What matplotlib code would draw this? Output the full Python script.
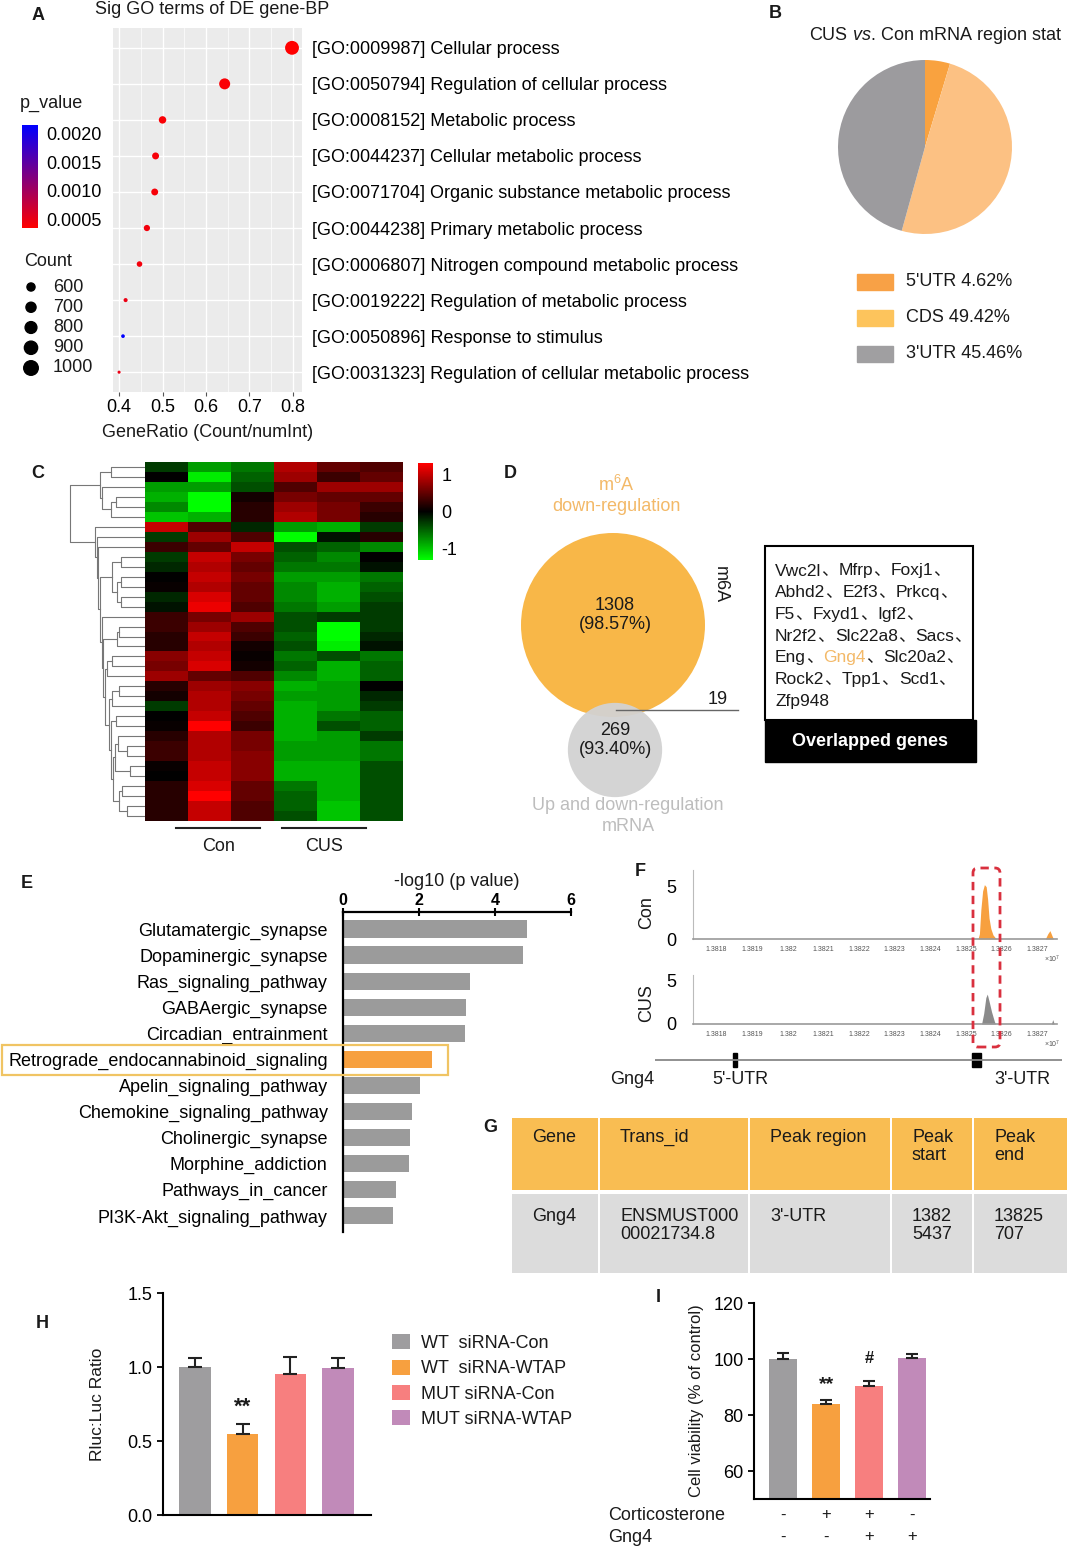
import matplotlib
matplotlib.use("Agg")
import matplotlib.pyplot as plt
import numpy as np
from matplotlib.cm import ScalarMappable
from matplotlib.colors import LinearSegmentedColormap, Normalize
from matplotlib.patches import Circle, FancyBboxPatch, Rectangle
from matplotlib.transforms import IdentityTransform, blended_transform_factory

plt.rcParams["font.family"] = ["Liberation Sans", "Noto Sans CJK SC", "DejaVu Sans"]
plt.rcParams["mathtext.fontset"] = "custom"
plt.rcParams["mathtext.rm"] = "Liberation Sans"
plt.rcParams["mathtext.it"] = "Liberation Sans:italic"
plt.rcParams["text.color"] = "#1a1a1a"
plt.rcParams["axes.labelcolor"] = "#1a1a1a"

# ---------------- data ----------------
go_terms = [
    "[GO:0009987] Cellular process",
    "[GO:0050794] Regulation of cellular process",
    "[GO:0008152] Metabolic process",
    "[GO:0044237] Cellular metabolic process",
    "[GO:0071704] Organic substance metabolic process",
    "[GO:0044238] Primary metabolic process",
    "[GO:0006807] Nitrogen compound metabolic process",
    "[GO:0019222] Regulation of metabolic process",
    "[GO:0050896] Response to stimulus",
    "[GO:0031323] Regulation of cellular metabolic process",
]
go_ratio = [0.798, 0.643, 0.500, 0.484, 0.482, 0.464, 0.447, 0.415, 0.409, 0.400]
go_count = [998, 804, 625, 605, 603, 580, 559, 519, 511, 500]
go_pvalue = [0.00036, 0.0004, 0.0004, 0.00042, 0.00042, 0.00045, 0.00045, 0.0005, 0.00214, 0.0005]
count_legend = [600, 700, 800, 900, 1000]
pvalue_ticks = [0.0005, 0.0010, 0.0015, 0.0020]

region_labels = ["5'UTR", "CDS", "3'UTR"]
region_pct = [4.62, 49.42, 45.46]

# z-scored expression, columns: Con1 Con2 Con3 CUS1 CUS2 CUS3
heat_rows = [
    [-0.3, -0.8, -0.6, 0.9, 0.5, 0.4],
    [0.0, -1.2, -0.5, 0.8, 0.3, 0.5],
    [-0.8, -0.8, -0.4, 0.4, 0.8, 0.8],
    [-0.9, -1.4, 0.1, 0.6, 0.5, 0.5],
    [-0.7, -1.3, 0.2, 0.8, 0.6, 0.3],
    [-1.0, -0.9, 0.2, 0.9, 0.6, 0.2],
    [1.0, 0.4, -0.2, -0.8, -0.9, -0.3],
    [-0.3, 0.8, 0.4, -1.3, -0.1, 0.2],
    [0.3, 0.5, 1.0, -0.4, -0.5, -0.7],
    [-0.3, 1.0, 0.6, -0.5, -0.7, 0.0],
    [-0.2, 0.9, 0.5, -0.6, -0.6, -0.1],
    [0.0, 1.0, 0.6, -0.8, -0.8, -0.6],
    [0.05, 0.9, 0.5, -0.7, -0.9, -0.5],
    [-0.2, 1.1, 0.5, -0.7, -0.9, -0.4],
    [-0.1, 1.2, 0.4, -0.6, -0.8, -0.3],
    [0.3, 0.6, 0.8, -0.4, -0.3, -0.3],
    [0.3, 0.8, 0.4, -0.4, -1.3, -0.3],
    [0.2, 1.0, 0.3, -0.5, -1.3, -0.2],
    [0.2, 0.9, 0.1, -0.4, -1.2, -0.1],
    [0.7, 1.0, 0.05, -0.6, -0.4, -0.6],
    [0.6, 1.1, 0.1, -0.5, -0.9, -0.5],
    [0.8, 0.5, 0.4, -0.7, -0.9, -0.5],
    [0.2, 0.8, 0.7, -0.9, -0.8, 0.0],
    [0.1, 0.9, 0.6, -0.8, -0.8, -0.2],
    [-0.3, 0.9, 0.5, -0.9, -0.8, -0.3],
    [0.0, 1.0, 0.4, -0.9, -0.6, -0.5],
    [0.05, 1.3, 0.3, -0.9, -0.4, -0.5],
    [0.2, 0.9, 0.6, -0.9, -0.8, -0.3],
    [0.3, 0.9, 0.6, -0.8, -0.8, -0.6],
    [0.3, 0.9, 0.7, -0.8, -0.8, -0.6],
    [0.05, 1.0, 0.7, -0.9, -0.9, -0.4],
    [0.0, 1.0, 0.7, -0.9, -0.9, -0.4],
    [0.2, 1.1, 0.5, -0.6, -0.9, -0.4],
    [0.2, 1.3, 0.5, -0.5, -0.9, -0.4],
    [0.2, 1.0, 0.4, -0.5, -1.0, -0.4],
    [0.2, 1.0, 0.4, -0.4, -1.0, -0.4],
]
heat_groups = ["Con", "CUS"]

venn_m6a_only = 1308
venn_m6a_pct = "98.57%"
venn_mrna_only = 269
venn_mrna_pct = "93.40%"
venn_overlap = 19
overlap_genes = ["Vwc2l", "Mfrp", "Foxj1", "Abhd2", "E2f3", "Prkcq", "F5", "Fxyd1", "Igf2",
                 "Nr2f2", "Slc22a8", "Sacs", "Eng", "Gng4", "Slc20a2", "Rock2", "Tpp1", "Scd1",
                 "Zfp948"]
highlight_gene = "Gng4"

kegg_terms = ["Glutamatergic_synapse", "Dopaminergic_synapse", "Ras_signaling_pathway",
              "GABAergic_synapse", "Circadian_entrainment", "Retrograde_endocannabinoid_signaling",
              "Apelin_signaling_pathway", "Chemokine_signaling_pathway", "Cholinergic_synapse",
              "Morphine_addiction", "Pathways_in_cancer", "PI3K-Akt_signaling_pathway"]
kegg_logp = [4.84, 4.74, 3.34, 3.24, 3.2, 2.34, 2.03, 1.82, 1.76, 1.74, 1.39, 1.32]
kegg_highlight = "Retrograde_endocannabinoid_signaling"

con_peak_x = [13825340, 13825380, 13825420, 13825470, 13825520, 13825570, 13825610, 13825650,
              13825700, 13825760, 13825830, 13825880]
con_peak_y = [0, 0.5, 2.8, 4.6, 5.2, 5.0, 3.8, 2.0, 1.0, 0.4, 0.1, 0]
con_small_x = [13827230, 13827300, 13827360, 13827420, 13827460]
con_small_y = [0, 0.5, 0.8, 0.3, 0]
cus_peak_x = [13825440, 13825500, 13825560, 13825600, 13825650, 13825720, 13825800, 13825830]
cus_peak_y = [0, 1.2, 3.0, 3.4, 2.6, 1.4, 0.3, 0]
cus_small_x = [13827400, 13827440, 13827480]
cus_small_y = [0, 0.5, 0]
track_ticks = [13818000, 13819000, 13820000, 13821000, 13822000, 13823000, 13824000,
               13825000, 13826000, 13827000]
utr_start = [13818450, 13825160]
utr_end = [13818570, 13825420]

table_header = ["Gene", "Trans_id", "Peak region", "Peak\nstart", "Peak\nend"]
table_row = ["Gng4", "ENSMUST000\n00021734.8", "3'-UTR", "1382\n5437", "13825\n707"]

luc_labels = ["WT  siRNA-Con", "WT  siRNA-WTAP", "MUT siRNA-Con", "MUT siRNA-WTAP"]
luc_mean = [1.0, 0.544, 0.956, 0.99]
luc_err = [0.06, 0.074, 0.11, 0.07]
luc_sig = ["", "**", "", ""]

via_mean = [100.0, 83.8, 90.2, 100.3]
via_err = [2.3, 1.4, 1.9, 1.6]
via_sig = ["", "**", "#", ""]
cort = ["-", "+", "+", "-"]
gng4 = ["-", "-", "+", "+"]

bar_colors = ["#9e9d9f", "#f7a03f", "#f77f7f", "#c18ab9"]

# ---------------- layout helpers ----------------
W, H = 1070, 1549
FS = 13
fig = plt.figure(figsize=(W / 100, H / 100), dpi=100)


def px_axes(x0, y0, x1, y1):
    return fig.add_axes([x0 / W, 1 - y1 / H, (x1 - x0) / W, (y1 - y0) / H])


def ftext(x, y, s, **kw):
    return fig.text(x / W, 1 - y / H, s, **kw)


for lab, (x, y) in zip("ABCDEFGHI", [(38, 15), (775, 13), (38, 473), (510, 473), (27, 884),
                                     (640, 872), (490, 1128), (42, 1324), (658, 1298)]):
    ftext(x, y, lab, fontsize=13, fontweight="bold", ha="center", va="center")

# ---------------- A: GO bubble ----------------
axA = px_axes(113, 28, 302, 392)
axA.set_facecolor("#ebebeb")
rows = np.arange(1, len(go_terms) + 1)
pcmap = LinearSegmentedColormap.from_list("pv", ["#ff0000", "#0000ff"])
pnorm = Normalize(0.00036, 0.00214)


def count_size(c):
    return 5 + (np.asarray(c) - 500) / 500 * 95


axA.scatter(go_ratio, rows, s=count_size(go_count), c=go_pvalue, cmap=pcmap, norm=pnorm,
            zorder=3, linewidths=0)
axA.set_xlim(0.386, 0.821)
axA.set_ylim(10.55, 0.45)
axA.set_xticks([0.4, 0.5, 0.6, 0.7, 0.8])
axA.set_xticks([0.45, 0.55, 0.65, 0.75], minor=True)
axA.set_yticks(rows)
axA.set_yticklabels(go_terms, fontsize=FS)
axA.yaxis.tick_right()
axA.tick_params(axis="y", length=0, pad=7)
axA.tick_params(axis="x", which="major", length=3, color="#555555", labelsize=FS, pad=2)
axA.tick_params(axis="x", which="minor", length=0)
axA.grid(True, which="major", color="white", lw=1.0)
axA.grid(True, which="minor", axis="x", color="white", lw=0.5)
axA.set_axisbelow(True)
for sp in axA.spines.values():
    sp.set_visible(False)
axA.set_xlabel("GeneRatio (Count/numInt)", fontsize=FS, labelpad=6)
ftext(212, 9, "Sig GO terms of DE gene-BP", fontsize=FS, ha="center", va="center")

ftext(20, 103, "p_value", fontsize=FS, va="center")
caxA = px_axes(22, 125, 38, 228)
cbA = fig.colorbar(ScalarMappable(norm=pnorm, cmap=pcmap), cax=caxA)
cbA.set_ticks(pvalue_ticks)
cbA.set_ticklabels([f"{v:.4f}" for v in pvalue_ticks])
cbA.outline.set_visible(False)
caxA.tick_params(length=0, labelsize=FS, pad=6)

ftext(24, 262, "Count", fontsize=FS, va="center")
axCnt = px_axes(15, 277, 110, 378)
axCnt.set_xlim(15, 110)
axCnt.set_ylim(378, 277)
axCnt.axis("off")
cnt_y = np.linspace(287, 368, len(count_legend))
axCnt.scatter([31] * len(count_legend), cnt_y, s=count_size(count_legend) + 10, color="black")
for c, y in zip(count_legend, cnt_y):
    axCnt.text(53, y, str(c), fontsize=FS, va="center")

# ---------------- B: pie ----------------
ftext(936, 36, r"CUS $\mathit{vs.}\,$Con mRNA region stat", fontsize=FS, ha="center", va="center")
axB = px_axes(838, 60, 1012, 234)
pie_colors = ["#f9a23f", "#fcc183", "#9c9b9e"]
axB.pie(region_pct, colors=pie_colors, startangle=90, counterclock=False, radius=1.0)
axB.set_xlim(-1, 1)
axB.set_ylim(-1, 1)
axB.set_aspect("equal")
leg_colors = ["#f8a146", "#fdc45c", "#a09fa1"]
for i, (lab, pct, col) in enumerate(zip(region_labels, region_pct, leg_colors)):
    y = 282 + i * 36
    fig.add_artist(Rectangle((857 / W, 1 - (y + 8) / H), 36 / W, 16 / H, color=col,
                             transform=fig.transFigure))
    ftext(906, y, f"{lab} {pct:.2f}%", fontsize=FS, va="center")

# ---------------- C: heatmap ----------------
heat = np.array(heat_rows)
hcmap = LinearSegmentedColormap.from_list("gbr", ["#00ff00", "#000000", "#ff0000"])
hnorm = Normalize(-1.3, 1.3)
axC = px_axes(145, 462, 403, 821)
axC.imshow(heat, cmap=hcmap, norm=hnorm, aspect="auto", interpolation="nearest")
axC.axis("off")

axDen = px_axes(68, 462, 145, 821)
clusters = [{"cen": np.array(r), "size": 1, "pos": float(i), "h": 0.0} for i, r in enumerate(heat_rows)]
root_h = 0.0
while len(clusters) > 1:
    d = [np.linalg.norm(clusters[i]["cen"] - clusters[i + 1]["cen"]) for i in range(len(clusters) - 1)]
    k = int(np.argmin(d))
    a, b = clusters[k], clusters[k + 1]
    h = max(d[k], a["h"], b["h"]) + 0.08
    ha_, hb_, hh = np.sqrt(a["h"]), np.sqrt(b["h"]), np.sqrt(h)
    axDen.plot([ha_, hh, hh, hb_], [a["pos"], a["pos"], b["pos"], b["pos"]],
               color="#777777", lw=0.8)
    size = a["size"] + b["size"]
    cen = (a["cen"] * a["size"] + b["cen"] * b["size"]) / size
    clusters[k:k + 2] = [{"cen": cen, "size": size, "pos": (a["pos"] + b["pos"]) / 2, "h": h}]
    root_h = hh
axDen.set_xlim(root_h * 1.02, 0)
axDen.set_ylim(len(heat_rows) - 0.5, -0.5)
axDen.axis("off")

caxC = px_axes(418, 463, 433, 560)
cbC = fig.colorbar(ScalarMappable(norm=hnorm, cmap=hcmap), cax=caxC)
cbC.set_ticks([-1, 0, 1])
cbC.set_ticklabels(["-1", "0", "1"])
cbC.outline.set_visible(False)
caxC.tick_params(length=0, labelsize=FS, pad=6)

axCl = px_axes(145, 822, 403, 860)
axCl.set_xlim(-0.5, 5.5)
axCl.set_ylim(1, 0)
axCl.axis("off")
for grp, cx in zip(heat_groups, [1.2, 3.66]):
    axCl.plot([cx - 0.98, cx + 0.98], [0.15, 0.15], color="#222222", lw=1.5)
    axCl.text(cx, 0.65, grp, fontsize=FS, ha="center", va="center")

# ---------------- D: venn ----------------
axD = px_axes(500, 470, 760, 850)
axD.set_xlim(500, 760)
axD.set_ylim(850, 470)
axD.set_aspect("equal")
axD.axis("off")
k_r = 92 / np.sqrt(venn_m6a_only + venn_overlap)
r_big = k_r * np.sqrt(venn_m6a_only + venn_overlap)
r_small = k_r * np.sqrt(venn_mrna_only + venn_overlap) * 1.1
axD.add_patch(Circle((613, 625), r_big, color="#f8b748", lw=0))
axD.add_patch(Circle((615, 750), r_small, color="#d2d2d2", lw=0, alpha=0.95))
axD.text(615, 615, f"{venn_m6a_only}\n({venn_m6a_pct})", fontsize=FS, ha="center", va="center",
         linespacing=1.2)
axD.text(615, 740, f"{venn_mrna_only}\n({venn_mrna_pct})", fontsize=FS, ha="center", va="center",
         linespacing=1.2)
axD.plot([616, 738], [710, 710], color="#666666", lw=1)
axD.text(718, 700, str(venn_overlap), fontsize=FS, ha="center", va="center")
axD.text(720, 585, "m6A", fontsize=FS, rotation=-90, ha="center", va="center")
axD.text(616, 495, "m$^6$A\ndown-regulation", fontsize=FS, ha="center", va="center",
         color="#f3b968", linespacing=1.25)
axD.text(628, 816, "Up and down-regulation\nmRNA", fontsize=FS, ha="center", va="center",
         color="#bdbdbd", linespacing=1.25)

axG = px_axes(760, 540, 980, 766)
axG.set_xlim(760, 980)
axG.set_ylim(766, 540)
axG.axis("off")
axG.add_patch(Rectangle((765, 546), 208, 174, fill=False, ec="black", lw=1.5))
axG.add_patch(Rectangle((765, 720), 211, 42, color="black"))
axG.text(870, 741, "Overlapped genes", color="white", fontsize=FS, fontweight="bold",
         ha="center", va="center")
gene_lines = [overlap_genes[i:i + 3] for i in range(0, len(overlap_genes), 3)]
for li, genes in enumerate(gene_lines):
    y = 571 + li * 21.7
    prev = None
    for gi, g in enumerate(genes):
        last = (li == len(gene_lines) - 1 and gi == len(genes) - 1)
        parts = [(g, "#f3b968" if g == highlight_gene else "#1a1a1a")]
        if not last:
            parts.append(("、", "#1a1a1a"))
        for s, col in parts:
            if prev is None:
                prev = axG.text(775, y, s, fontsize=12.5, color=col, va="center")
            else:
                prev = axG.annotate(s, xy=(1, 0), xycoords=prev, va="bottom", fontsize=12.5,
                                    color=col)

# ---------------- E: KEGG bars ----------------
axE = px_axes(343, 912, 571, 1232)
ypos = np.arange(len(kegg_terms))
ecol = ["#f7a03f" if t == kegg_highlight else "#9b9b9b" for t in kegg_terms]
axE.barh(ypos, kegg_logp, height=0.66, color=ecol)
axE.set_xlim(0, 6)
axE.set_ylim(11.62, -0.65)
axE.xaxis.tick_top()
axE.set_xticks([0, 2, 4, 6])
axE.set_xticklabels(["0", "2", "4", "6"], fontweight="bold")
axE.tick_params(axis="x", labelsize=11.5, direction="inout", length=6, width=1.5, pad=0)
axE.set_yticks(ypos)
axE.set_yticklabels(kegg_terms, fontsize=FS)
axE.tick_params(axis="y", length=0, pad=11)
for sp in ["right", "bottom"]:
    axE.spines[sp].set_visible(False)
axE.spines["left"].set_linewidth(1.6)
axE.spines["top"].set_linewidth(1.6)
axE.set_xlabel("-log10 (p value)", fontsize=FS)
axE.xaxis.set_label_position("top")
axE.xaxis.labelpad = 5
fig.add_artist(Rectangle((2 / W, 1 - 1075 / H), 446 / W, 30 / H, fill=False, ec="#f0c463",
                         lw=1.6, transform=fig.transFigure))

# ---------------- F: peak tracks ----------------


def bp_at(px):
    return 13818000 + (px - 716.7) / 35.6 * 1000


def track(y0, y1, ytop, xs, ys, col, sx, sy):
    ax = px_axes(693, y0, 1057, y1)
    ax.fill_between(xs, ys, color=col, lw=0)
    ax.fill_between(sx, sy, color=col, lw=0)
    ax.set_xlim(bp_at(693), bp_at(1057))
    ax.set_ylim(0, ytop)
    ax.set_yticks([0, 5])
    ax.tick_params(axis="y", length=0, labelsize=FS, pad=12)
    ax.set_xticks(track_ticks)
    ax.set_xticklabels([f"{v / 1e7:g}" for v in track_ticks], fontsize=5, color="#555555")
    ax.tick_params(axis="x", length=0, pad=5)
    for sp in ["top", "right"]:
        ax.spines[sp].set_visible(False)
    ax.spines["left"].set_color("#bbbbbb")
    ax.spines["bottom"].set_color("#999999")
    ax.spines["left"].set_linewidth(0.8)
    ax.spines["bottom"].set_linewidth(1.2)
    ax.set_facecolor("none")
    return ax


track(870, 939, 6.6, con_peak_x, con_peak_y, "#f7a03f", con_small_x, con_small_y)
track(975, 1024, 5.57, cus_peak_x, cus_peak_y, "#8a8a8a", cus_small_x, cus_small_y)
ftext(647, 913, "Con", fontsize=FS, rotation=90, ha="center", va="center")
ftext(647, 1003, "CUS", fontsize=FS, rotation=90, ha="center", va="center")
ftext(1044, 959, r"$\times10^7$", fontsize=5, color="#555555", ha="left", va="center")
ftext(1044, 1044, r"$\times10^7$", fontsize=5, color="#555555", ha="left", va="center")

axGene = px_axes(655, 1050, 1062, 1070)
axGene.plot([bp_at(655), bp_at(1062)], [0, 0], color="#888888", lw=1.3)
for s, e in zip(utr_start, utr_end):
    axGene.add_patch(Rectangle((s, -0.7), e - s, 1.4, color="black"))
axGene.set_xlim(bp_at(655), bp_at(1062))
axGene.set_ylim(-1, 1)
axGene.axis("off")
ftext(632, 1080, "Gng4", fontsize=FS, ha="center", va="center")
ftext(740, 1080, "5'-UTR", fontsize=FS, ha="center", va="center")
ftext(1022, 1080, "3'-UTR", fontsize=FS, ha="center", va="center")

fig.add_artist(FancyBboxPatch((973, H - 1047), 27, 179, boxstyle="round,pad=0,rounding_size=5",
                              transform=IdentityTransform(), fill=False, ec="#d9303e", lw=2,
                              ls=(0, (3, 2))))

# ---------------- G: table ----------------
axT = px_axes(506, 1112, 1070, 1276)
axT.set_xlim(506, 1070)
axT.set_ylim(1276, 1112)
axT.axis("off")
col_edges = [511, 599, 749, 891, 973, 1068]
for i in range(len(table_header)):
    x0, x1 = col_edges[i], col_edges[i + 1]
    axT.add_patch(Rectangle((x0 + 1, 1118), x1 - x0 - 2, 72, color="#f9bd52", lw=0))
    axT.add_patch(Rectangle((x0 + 1, 1194), x1 - x0 - 2, 79, color="#dcdcdc", lw=0))
    axT.text(x0 + 21, 1129, table_header[i], fontsize=FS, va="top", linespacing=1.1)
    axT.text(x0 + 21, 1208, table_row[i], fontsize=FS, va="top", linespacing=1.1)

# ---------------- H: luciferase ----------------
axH = px_axes(163, 1293, 371, 1515)
xh = np.arange(len(luc_mean))
bars = axH.bar(xh, luc_mean, width=0.66, color=bar_colors)
axH.errorbar(xh, luc_mean, yerr=[np.zeros(len(luc_err)), luc_err], fmt="none", ecolor="#222222",
             elinewidth=1.5, capsize=5, capthick=1.5)
for x, m, e, s in zip(xh, luc_mean, luc_err, luc_sig):
    if s:
        axH.text(x, m + e + 0.04, s, fontsize=16, fontweight="bold", ha="center", va="bottom")
axH.set_xlim(-0.67, 3.69)
axH.set_ylim(0, 1.5)
axH.set_yticks([0, 0.5, 1.0, 1.5])
axH.set_yticklabels(["0.0", "0.5", "1.0", "1.5"])
axH.set_xticks([])
axH.tick_params(axis="y", labelsize=FS, length=4, width=1.3)
for sp in ["top", "right"]:
    axH.spines[sp].set_visible(False)
for sp in ["left", "bottom"]:
    axH.spines[sp].set_linewidth(1.5)
axH.set_ylabel("Rluc:Luc Ratio", fontsize=12.5, labelpad=16)
axH.legend(bars, luc_labels, loc="upper left", bbox_to_anchor=(376 / W, 1 - 1318 / H),
           bbox_transform=fig.transFigure, frameon=False, fontsize=FS, handlelength=1.0,
           handleheight=0.9, handletextpad=0.6, labelspacing=0.42)

# ---------------- I: viability ----------------
axI = px_axes(754, 1303, 930, 1499)
xi = np.arange(len(via_mean))
axI.bar(xi, via_mean, width=0.66, color=bar_colors)
axI.errorbar(xi, via_mean, yerr=[np.zeros(len(via_err)), via_err], fmt="none", ecolor="#222222",
             elinewidth=1.5, capsize=4.5, capthick=1.5)
for x, m, e, s in zip(xi, via_mean, via_err, via_sig):
    if s == "**":
        axI.text(x, m + e + 2.5, s, fontsize=14, fontweight="bold", ha="center", va="bottom")
    elif s:
        axI.text(x, m + e + 5.5, s, fontsize=12, fontweight="bold", ha="center", va="bottom")
axI.set_xlim(-0.68, 3.42)
axI.set_ylim(50, 120)
axI.set_yticks([60, 80, 100, 120])
axI.set_xticks([])
axI.tick_params(axis="y", labelsize=FS, length=4, width=1.3)
for sp in ["top", "right"]:
    axI.spines[sp].set_visible(False)
for sp in ["left", "bottom"]:
    axI.spines[sp].set_linewidth(1.5)
axI.set_ylabel("Cell viability (% of control)", fontsize=12, labelpad=7)
tr = blended_transform_factory(axI.transData, fig.transFigure)
ftext(608, 1515, "Corticosterone", fontsize=FS, va="center")
ftext(608, 1537, "Gng4", fontsize=FS, va="center")
for x, c, g in zip(xi, cort, gng4):
    axI.text(x, 1 - 1515 / H, c, transform=tr, fontsize=12, ha="center", va="center")
    axI.text(x, 1 - 1537 / H, g, transform=tr, fontsize=12, ha="center", va="center")

fig.savefig("out.png", dpi=100)
